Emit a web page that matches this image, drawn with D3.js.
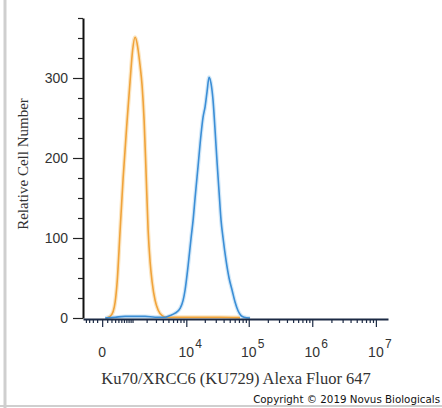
<!DOCTYPE html>
<html>
<head>
<meta charset="utf-8">
<script src="https://cdn.jsdelivr.net/npm/d3@7"></script>
<style>
  body { margin: 0; background: #fff; }
  svg { display: block; }
</style>
</head>
<body>
<svg width="442" height="408"></svg>
<script>
// isotype control (orange) and Ku70 stained cells (blue)
const controlIntensity = [78, 168, 244, 300, 360, 458, 568, 734, 876, 1006, 1148, 1272, 1337, 1475, 1623, 1782, 1953, 2137, 2335, 2548, 2896, 3285, 3875, 4555, 7885, 16780, 35100, 72850];
const controlCount = [0, 2, 8, 20, 45, 110, 175, 247, 297, 335, 351, 343, 335, 315, 290, 247, 180, 110, 70, 45, 22, 10, 3, 1, 1, 1, 1, 0.5];

const stainedIntensity = [57, 300, 648, 1148, 1866, 2896, 4376, 5341, 6498, 7885, 8845, 9545, 10695, 11980, 12915, 13920, 15575, 17415, 18755, 20205, 21750, 23420, 25210, 27135, 29210, 31435, 33835, 36410, 39175, 43725, 48790, 54435, 60735, 67735, 75550, 84250, 104800];
const stainedCount = [0, 1, 2, 2, 2, 1, 1, 3, 6, 12, 22, 35, 65, 100, 122, 150, 190, 230, 251, 264, 283, 301, 293, 272, 235, 195, 158, 122, 100, 72, 50, 35, 20, 9, 3, 1, 0];

const xMajorTicks = [0, 1e4, 1e5, 1e6, 1e7];
const xTickExponents = ["", "4", "5", "6", "7"];
const yTicks = d3.range(0, 376, 25);

const svg = d3.select("svg");

const x = d3.scaleSymlog()
  .constant(500)
  .domain([-500, 1.55e7])
  .range([83, 388]);

const y = d3.scaleLinear()
  .domain([0, 375])
  .range([318, 18]);

// frame
svg.append("line").attr("x1", 5).attr("x2", 5).attr("y1", 0).attr("y2", 408)
  .attr("stroke", "#cfcfcf").attr("stroke-width", 3);
svg.append("line").attr("x1", 0).attr("x2", 442).attr("y1", 406).attr("y2", 406)
  .attr("stroke", "#cfcfcf").attr("stroke-width", 2);

const line = d3.line()
  .x(d => x(d[0]))
  .y(d => y(d[1]))
  .curve(d3.curveMonotoneX);

const series = [
  { pts: d3.zip(controlIntensity, controlCount), color: "#f0a33a", halo: "#fbe6c4" },
  { pts: d3.zip(stainedIntensity, stainedCount), color: "#3b8ed6", halo: "#d3e8f8" }
];

series.forEach(s => {
  svg.append("path").attr("d", line(s.pts)).attr("fill", "none")
    .attr("stroke", s.halo).attr("stroke-width", 4);
});
series.forEach(s => {
  svg.append("path").attr("d", line(s.pts)).attr("fill", "none")
    .attr("stroke", s.color).attr("stroke-width", 1.6);
});

// y axis
const gy = svg.append("g")
  .attr("transform", "translate(83,0)")
  .call(d3.axisLeft(y)
    .tickValues(yTicks)
    .tickSize(5)
    .tickSizeOuter(0)
    .tickPadding(10)
    .tickFormat(d => d % 100 === 0 ? d : ""));
gy.select(".domain").attr("stroke", "#111").attr("stroke-width", 2);
gy.selectAll(".tick line").attr("stroke", "#222").attr("stroke-width", 1.2)
  .filter(d => d % 100 === 0).attr("x2", -10);
gy.selectAll(".tick text")
  .attr("font-family", "Liberation Sans, Arial, sans-serif")
  .attr("font-size", 14).attr("fill", "#333");

// x axis, logicle-like
const xMinorTicks = [-400, -300, -200, -100];
for (let k = 2; k <= 6; k++) {
  for (let m = 1; m <= 9; m++) {
    if (k >= 4 && m === 1) continue;
    xMinorTicks.push(m * Math.pow(10, k));
  }
}

const gx = svg.append("g")
  .attr("transform", "translate(0,319)")
  .call(d3.axisBottom(x)
    .tickValues(xMinorTicks.concat(xMajorTicks))
    .tickSize(4)
    .tickSizeOuter(0)
    .tickFormat(""));
gx.select(".domain").attr("stroke", "#1c2a44").attr("stroke-width", 2.2);
gx.selectAll(".tick line").attr("stroke", "#1c2a44").attr("stroke-width", 1.2)
  .filter(d => xMajorTicks.includes(d)).attr("y2", 8);

const labels = svg.append("g")
  .attr("font-family", "Liberation Sans, Arial, sans-serif")
  .attr("fill", "#333");
xMajorTicks.forEach((v, i) => {
  if (v === 0) {
    labels.append("text").attr("x", x(v)).attr("y", 357)
      .attr("text-anchor", "middle").attr("font-size", 14).text("0");
  } else {
    labels.append("text").attr("x", x(v)).attr("y", 357)
      .attr("text-anchor", "middle").attr("font-size", 14).text("10");
    labels.append("text").attr("x", x(v) + 9).attr("y", 348)
      .attr("font-size", 12).text(xTickExponents[i]);
  }
});

// titles
svg.append("text")
  .attr("x", 236).attr("y", 384)
  .attr("text-anchor", "middle")
  .attr("font-family", "Liberation Serif, Times New Roman, serif")
  .attr("font-size", 16.5).attr("fill", "#333")
  .text("Ku70/XRCC6 (KU729) Alexa Fluor 647");

svg.append("text")
  .attr("transform", "translate(28,164) rotate(-90)")
  .attr("text-anchor", "middle")
  .attr("font-family", "Liberation Serif, Times New Roman, serif")
  .attr("font-size", 15).attr("fill", "#333")
  .text("Relative Cell Number");

svg.append("text")
  .attr("x", 440).attr("y", 403)
  .attr("text-anchor", "end")
  .attr("font-family", "DejaVu Sans, sans-serif")
  .attr("font-size", 10.3).attr("fill", "#111")
  .text("Copyright © 2019 Novus Biologicals");
</script>
</body>
</html>
